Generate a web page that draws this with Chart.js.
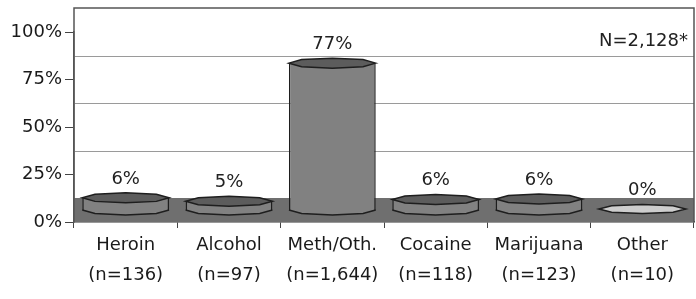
<!DOCTYPE html>
<html>
<head>
<meta charset="utf-8">
<script src="https://cdn.jsdelivr.net/npm/chart.js@4.4.1/dist/chart.umd.min.js"></script>
<style>
html,body{margin:0;padding:0;background:#fff;}
canvas{display:block;}
</style>
</head>
<body>
<canvas id="c" width="696" height="299"></canvas>
<script>
const categories = [["Heroin","(n=136)"],["Alcohol","(n=97)"],["Meth/Oth.","(n=1,644)"],["Cocaine","(n=118)"],["Marijuana","(n=123)"],["Other","(n=10)"]];
const shares = [6.4, 4.6, 77.3, 5.5, 5.8, 0.5];
const valueLabels = ["6%","5%","77%","6%","6%","0%"];
const yTicks = [0, 25, 50, 75, 100];
const totalLabel = "N=2,128*";

const FONT = "'DejaVu Sans', Verdana, sans-serif";
const DEPTH = 24;          // full 3D depth in px (front plane -> back wall)
const HALF = DEPTH / 2;    // bars sit at mid depth
const PLOT_H = 190;        // pixel height of 0..100 on front plane
const shift = HALF / PLOT_H * 100;
const CAP = 5;             // half-height of the octagon caps

function octagon(ctx, cx, cy, rx, ry, half) {
  const pts = [];
  for (let k = 0; k < 8; k++) {
    const a = k * Math.PI / 4;
    pts.push([cx + rx * Math.cos(a), cy + ry * Math.sin(a)]);
  }
  ctx.beginPath();
  if (half === 'bottom') {
    // angles 0..180 (sin positive = downward)
    for (let k = 0; k <= 4; k++) {
      const p = pts[k];
      if (k === 0) ctx.moveTo(p[0], p[1]); else ctx.lineTo(p[0], p[1]);
    }
  } else {
    pts.forEach((p, i) => i === 0 ? ctx.moveTo(p[0], p[1]) : ctx.lineTo(p[0], p[1]));
    ctx.closePath();
  }
}

const cylPlugin = {
  id: 'cyl',
  beforeDatasetsDraw(chart) {
    const ctx = chart.ctx;
    const y = chart.scales.y;
    const ca = chart.chartArea;
    const y0 = y.getPixelForValue(0);
    ctx.save();
    // floor
    ctx.fillStyle = '#6f6f6f';
    ctx.fillRect(ca.left, y0 - DEPTH, ca.right - ca.left, DEPTH);
    // back-wall gridlines
    ctx.strokeStyle = '#9a9a9a';
    ctx.lineWidth = 1;
    yTicks.forEach(v => {
      if (v === 0 || v === 100) return;
      const py = Math.round(y.getPixelForValue(v) - DEPTH) + 0.5;
      ctx.beginPath(); ctx.moveTo(ca.left, py); ctx.lineTo(ca.right, py); ctx.stroke();
    });
    // frame
    ctx.strokeStyle = '#555';
    ctx.lineWidth = 1.5;
    const top = y.getPixelForValue(100) - DEPTH;
    ctx.beginPath();
    ctx.moveTo(ca.left, y0);
    ctx.lineTo(ca.left, top);
    ctx.lineTo(ca.right, top);
    ctx.lineTo(ca.right, y0);
    ctx.stroke();
    ctx.restore();
  },
  afterDatasetsDraw(chart) {
    const ctx = chart.ctx;
    const meta = chart.getDatasetMeta(0);
    ctx.save();
    meta.data.forEach((bar, i) => {
      const p = bar.getProps(['x', 'y', 'base', 'width'], true);
      const rx = p.width / 2;
      const flat = (p.base - p.y) < 3;
      // bottom half of the cylinder
      if (!flat) {
        octagon(ctx, p.x, p.base, rx, CAP, 'bottom');
        ctx.fillStyle = '#818181';
        ctx.fill();
        ctx.strokeStyle = '#1e1e1e';
        ctx.lineWidth = 1.5;
        ctx.stroke();
      }
      // top cap
      octagon(ctx, p.x, p.y, rx, flat ? CAP * 0.9 : CAP, 'full');
      ctx.fillStyle = flat ? '#cdcdcd' : '#5c5c5c';
      ctx.fill();
      ctx.strokeStyle = '#1e1e1e';
      ctx.lineWidth = 1.5;
      ctx.stroke();
      // value label
      ctx.fillStyle = '#222';
      ctx.font = '18px ' + FONT;
      ctx.textAlign = 'center';
      ctx.textBaseline = 'middle';
      ctx.fillText(valueLabels[i], p.x, p.y - CAP - 14);
    });
    // total label
    const ca = chart.chartArea;
    ctx.fillStyle = '#222';
    ctx.font = '18px ' + FONT;
    ctx.textAlign = 'right';
    ctx.textBaseline = 'middle';
    ctx.fillText(totalLabel, ca.right - 6, chart.scales.y.getPixelForValue(95));
    ctx.restore();
  }
};

new Chart(document.getElementById('c'), {
  type: 'bar',
  data: {
    labels: categories,
    datasets: [{
      data: shares,
      yAxisID: 'yb',
      backgroundColor: '#818181',
      borderColor: '#1e1e1e',
      borderWidth: {left: 1.5, right: 1.5, top: 0, bottom: 0},
      borderSkipped: false,
      categoryPercentage: 1,
      barPercentage: 0.84
    }]
  },
  options: {
    responsive: false,
    animation: false,
    devicePixelRatio: 1,
    layout: {padding: {top: 32, right: 2, left: 0, bottom: 0}},
    plugins: {legend: {display: false}, tooltip: {enabled: false}},
    scales: {
      x: {
        grid: {display: true, drawOnChartArea: false, offset: true, tickLength: 6, color: '#444'},
        border: {display: true, color: '#333', width: 1.5},
        ticks: {
          color: '#1a1a1a', padding: 2,
          font: {family: FONT, size: 18, lineHeight: 1.667},
          maxRotation: 0, autoSkip: false
        },
        afterFit(s) { s.height = 77; }
      },
      y: {
        min: 0, max: 100,
        afterBuildTicks(s) { s.ticks = yTicks.map(v => ({value: v})); },
        grid: {display: true, drawOnChartArea: false, tickLength: 9, color: '#444'},
        border: {display: true, color: '#555', width: 1.5},
        ticks: {
          color: '#1a1a1a', padding: 3,
          font: {family: FONT, size: 18},
          callback: v => v + '%'
        },
        afterFit(s) { s.width = 74; }
      },
      yb: {
        display: false,
        min: -shift, max: 100 - shift
      }
    }
  },
  plugins: [cylPlugin]
});
</script>
</body>
</html>
